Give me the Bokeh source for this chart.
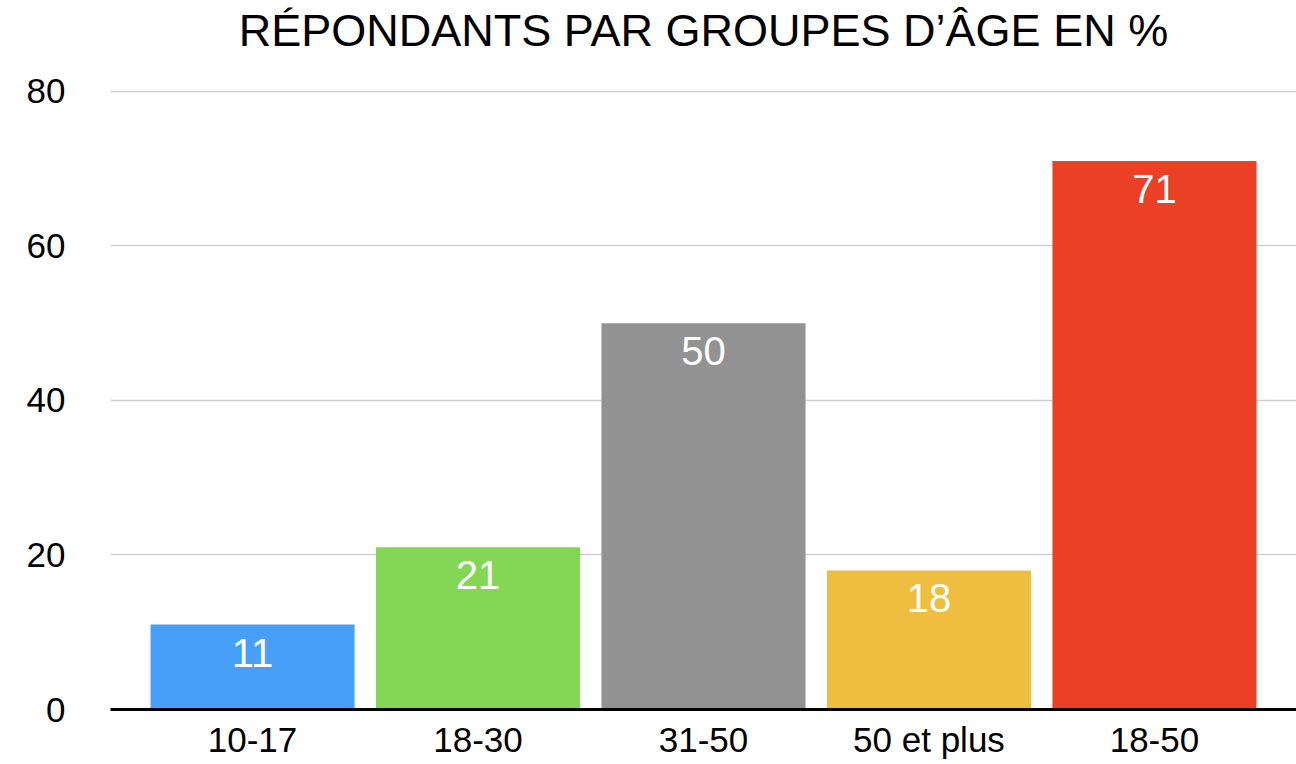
from bokeh.plotting import figure
from bokeh.models import ColumnDataSource, FactorRange, Range1d, FixedTicker, Title
from bokeh.core.properties import value
from bokeh.embed import file_html
from bokeh.resources import INLINE

categories = ["10-17", "18-30", "31-50", "50 et plus", "18-50"]
values = [11, 21, 50, 18, 71]
colors = ["#479FF8", "#83D656", "#929292", "#EFBD40", "#E94026"]
y_ticks = [0, 20, 40, 60, 80]
title_text = "RÉPONDANTS PAR GROUPES D\u2019ÂGE EN %"

FONT = "Liberation Sans"

src = ColumnDataSource(dict(cat=categories, val=values, color=colors,
                            label=[str(v) for v in values]))

p = figure(x_range=FactorRange(factors=categories, range_padding=0.052),
           y_range=Range1d(0, 80.25),
           frame_width=1186, frame_height=620,
           min_border_left=110, min_border_right=0, min_border_top=89, min_border_bottom=0,
           output_backend="svg", toolbar_location=None, tools="")

p.title = Title(text=title_text, align="center", vertical_align="top", text_font=FONT,
                text_font_size="45px", text_font_style="normal",
                text_color="#000000", standoff=8,
                padding=dict(left=0, right=0, top=0, bottom=28))

p.vbar(x="cat", top="val", width=0.905, color="color", line_color=None, source=src)

p.text(x="cat", y="val", text="label", source=src, text_color="white",
       text_font=value(FONT), text_font_size="40px", text_align="center",
       text_baseline="middle", y_offset=28)

p.outline_line_color = None
p.background_fill_color = "white"
p.border_fill_color = "white"

p.xgrid.grid_line_color = None
p.ygrid.grid_line_color = "#CFCFCF"
p.ygrid.grid_line_width = 1.5
p.yaxis.ticker = FixedTicker(ticks=y_ticks)

p.yaxis.axis_line_color = None
p.yaxis.major_tick_line_color = None
p.yaxis.minor_tick_line_color = None
p.yaxis.major_label_standoff = 39
p.yaxis.major_label_text_font = FONT
p.yaxis.major_label_text_font_size = "35px"
p.yaxis.major_label_text_color = "#000000"

p.xaxis.axis_line_color = "#000000"
p.xaxis.axis_line_width = 3
p.xaxis.major_tick_line_color = None
p.xaxis.minor_tick_line_color = None
p.xaxis.major_label_standoff = 4
p.xaxis.major_label_text_font = FONT
p.xaxis.major_label_text_font_size = "35px"
p.xaxis.major_label_text_color = "#000000"

open("out.html", "w").write(file_html(p, INLINE))
